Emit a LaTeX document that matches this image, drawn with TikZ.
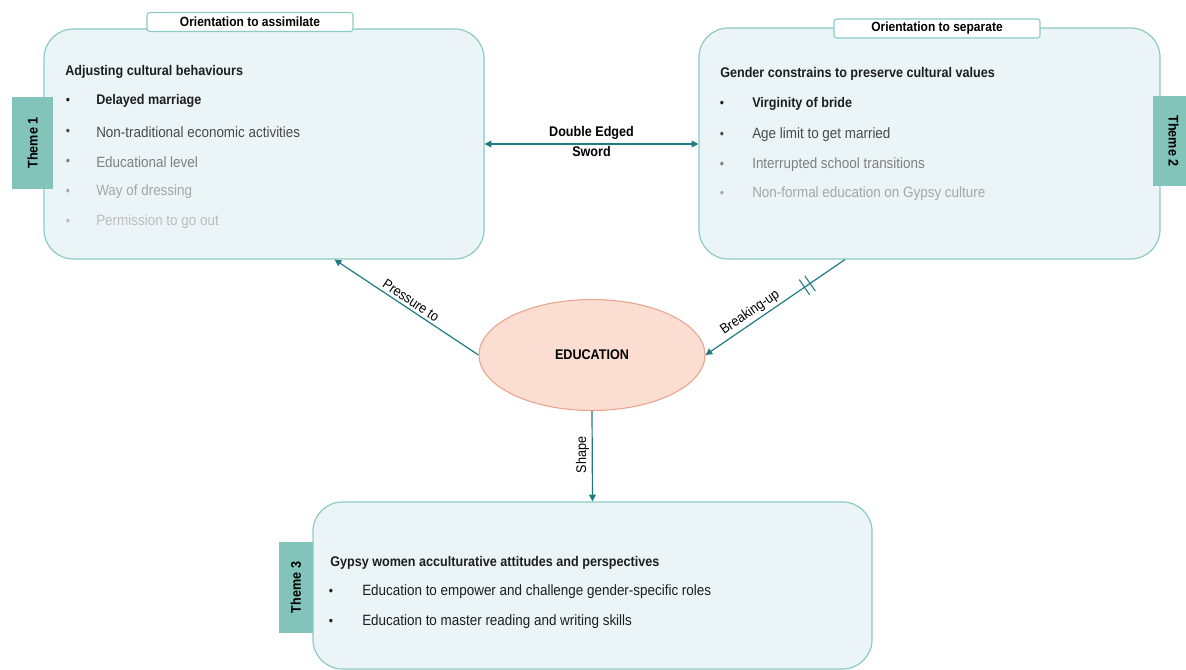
\documentclass[tikz,border=0pt]{standalone}
\usepackage{fontspec}
\setmainfont{Liberation Sans}[FakeStretch=0.9]
\usetikzlibrary{calc,shapes.geometric,arrows.meta}
\definecolor{boxfill}{HTML}{EBF5F7}
\definecolor{boxline}{HTML}{8DCAC4}
\definecolor{tabfill}{HTML}{82C3BA}
\definecolor{arrowc}{HTML}{1F7B82}
\definecolor{edufill}{HTML}{FCDDD2}
\definecolor{eduline}{HTML}{E9A48C}
\definecolor{tA}{HTML}{1E1E1E}
\definecolor{tB}{HTML}{4A4A4A}
\definecolor{tC}{HTML}{7F7F7F}
\definecolor{tD}{HTML}{A6A6A6}
\definecolor{tE}{HTML}{BDBDBD}
\begin{document}
\begin{tikzpicture}[x=0.75pt,y=-0.75pt,
  themebox/.style={draw=boxline,fill=boxfill,line width=0.9pt,rounded corners=22pt,inner sep=0pt},
  orient/.style={draw=boxline,fill=white,line width=0.8pt,rounded corners=2pt,inner sep=0pt,
    minimum width=154.5pt,minimum height=14.25pt,font=\fontsize{10}{12}\selectfont\bfseries},
  themetab/.style={fill=tabfill,inner sep=0pt,font=\fontsize{10.5}{12}\selectfont\bfseries},
  head/.style={anchor=west,inner sep=0pt,font=\fontsize{10.5}{12}\selectfont\bfseries,text=tA},
  item/.style={anchor=west,inner sep=0pt,font=\fontsize{11.2}{13}\selectfont},
  itembold/.style={item,font=\fontsize{10.5}{13}\selectfont\bfseries},
  dot/.style={anchor=center,inner sep=0pt,font=\fontsize{10}{12}\selectfont},
  conn/.style={draw=arrowc,line width=0.9pt,-{Triangle[length=5pt,width=5pt]}},
  lbl/.style={font=\fontsize{10.5}{12}\selectfont,text=black,inner sep=2pt}]
\useasboundingbox (0,0) rectangle (1186,670);

% the three theme panels
\node[themebox,minimum width=330pt,minimum height=172.5pt] (box1) at (264,144) {};
\node[themebox,minimum width=345.75pt,minimum height=173.25pt] (box2) at (929.5,143.5) {};
\node[themebox,minimum width=419.25pt,minimum height=125.25pt] (box3) at (592.5,585.5) {};

% orientation tabs
\node[orient] (or1) at (250,22) {Orientation to assimilate};
\node[orient] (or2) at (937,28.5) {Orientation to separate};

% theme labels
\node[themetab,minimum width=30.75pt,minimum height=69pt] (th1) at (32.5,143) {};
\node[rotate=90,themetab,fill=none] at (th1.center) {Theme 1};
\node[themetab,minimum width=30.75pt,minimum height=67.5pt] (th2) at (1173.5,141) {};
\node[rotate=-90,themetab,fill=none] at (th2.center) {Theme 2};
\node[themetab,minimum width=25.5pt,minimum height=68.25pt] (th3) at (296,587.5) {};
\node[rotate=90,themetab,fill=none] at (th3.center) {Theme 3};

% theme 1 content
\node[head] (h1) at (65,72) {Adjusting cultural behaviours};
\node[dot,text=tA] (d11) at (68,101) {•};
\node[itembold,text=tA] (i11) at (96,101) {Delayed marriage};
\node[dot,text=tB] (d12) at (68,132) {•};
\node[item,text=tB] (i12) at (96,132) {Non-traditional economic activities};
\node[dot,text=tC] (d13) at (68,162) {•};
\node[item,text=tC] (i13) at (96,162) {Educational level};
\node[dot,text=tD] (d14) at (68,192) {•};
\node[item,text=tD] (i14) at (96,192) {Way of dressing};
\node[dot,text=tE] (d15) at (68,222) {•};
\node[item,text=tE] (i15) at (96,222) {Permission to go out};

% theme 2 content
\node[head] (h2) at (720,74) {Gender constrains to preserve cultural values};
\node[dot,text=tA] (d21) at (722,104) {•};
\node[itembold,text=tA] (i21) at (752,104) {Virginity of bride};
\node[dot,text=tB] (d22) at (722,135) {•};
\node[item,text=tB] (i22) at (752,135) {Age limit to get married};
\node[dot,text=tC] (d23) at (722,165) {•};
\node[item,text=tC] (i23) at (752,165) {Interrupted school transitions};
\node[dot,text=tD] (d24) at (722,194) {•};
\node[item,text=tD] (i24) at (752,194) {Non-formal education on Gypsy culture};

% theme 3 content
\node[head] (h3) at (330,563) {Gypsy women acculturative attitudes and perspectives};
\node[dot,text=tA] (d31) at (331,592) {•};
\node[item,text=tA] (i31) at (362,592) {Education to empower and challenge gender-specific roles};
\node[dot,text=tA] (d32) at (331,622) {•};
\node[item,text=tA] (i32) at (362,622) {Education to master reading and writing skills};

% central concept
\node[ellipse,draw=eduline,fill=edufill,line width=0.8pt,minimum width=169.5pt,minimum height=83.25pt,
  font=\fontsize{10.5}{12}\selectfont\bfseries] (edu) at (592,355) {EDUCATION};

% connectors
\draw[conn,{Triangle[length=5pt,width=5pt]}-{Triangle[length=5pt,width=5pt]}]
  (box1.east) -- node[lbl,align=center,font=\fontsize{10.5}{15}\selectfont\bfseries,yshift=2pt] (dbl) {Double Edged\\Sword} (box2.west |- box1.east);

\coordinate (p1) at ($(box1.south west)!0.66!(box1.south east)$);
\draw[conn] (edu.west) -- node[lbl,sloped,above,pos=0.5] (lp) {Pressure to} (p1);

\coordinate (p2) at ($(box2.south west)!0.317!(box2.south east)$);
\draw[conn] (p2) -- node[lbl,sloped,above,pos=0.64] (lb) {Breaking-up} (edu.east);
% interruption mark on the breaking-up link
\coordinate (k1) at ($(p2)!0.25!(edu.east)$);
\coordinate (k2) at ($(p2)!0.29!(edu.east)$);
\draw[arrowc,line width=0.8pt] ($(k1)!7pt!90:(p2)$) -- ($(k1)!7pt!-90:(p2)$);
\draw[arrowc,line width=0.8pt] ($(k2)!7pt!90:(p2)$) -- ($(k2)!7pt!-90:(p2)$);

\draw[conn] (edu.south) -- (box3.north);
\node[lbl,rotate=90,anchor=south] (ls) at (592,455) {Shape};
\end{tikzpicture}
\end{document}
